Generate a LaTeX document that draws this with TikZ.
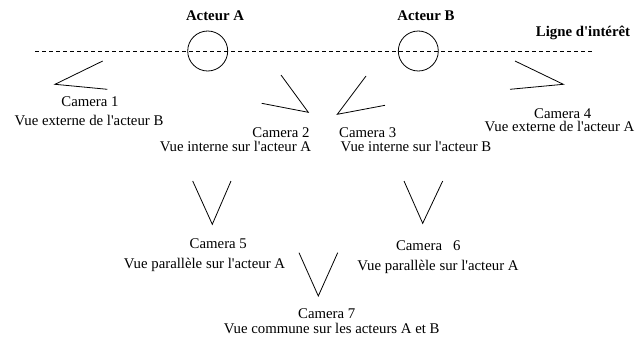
\documentclass[tikz,border=0pt]{standalone}
\usepackage{fontspec}
\setmainfont{Liberation Serif}[Ligatures=TeXOff]
\begin{document}
\begin{tikzpicture}[x=1pt,y=-1pt,
  lbl/.style={inner sep=0pt,anchor=base,font=\fontsize{14.8}{17}\selectfont},
  blbl/.style={lbl,font=\fontsize{14.8}{17}\selectfont\bfseries},
  cam/.style={line width=0.8pt,line join=miter},
  actor/.style={circle,draw,line width=0.8pt,minimum size=40pt,inner sep=0pt},
  interest/.style={dash pattern=on 4pt off 3pt,line width=0.8pt}]
\useasboundingbox (0,0) rectangle (639,338);
% line of interest
\coordinate (L0) at (35,51);
\coordinate (L1) at (592,51);
\draw[interest] (L0) -- (L1);
% actors
\node[actor] (actA) at (207.7,51) {};
\node[actor] (actB) at (418.3,51) {};
\node[blbl] (tA) at (215,20) {Acteur A};
\node[blbl] (tB) at (426,20) {Acteur B};
\node[blbl] (tL) at (583,36) {Ligne d'intérêt};
% cameras
\coordinate (c1a) at (102.7,61); \coordinate (c1o) at (55,84.3); \coordinate (c1b) at (107.3,89.3);
\draw[cam] (c1a) -- (c1o) -- (c1b);
\coordinate (c2a) at (281,75); \coordinate (c2o) at (308.3,112.3); \coordinate (c2b) at (261.7,103.3);
\draw[cam] (c2a) -- (c2o) -- (c2b);
\coordinate (c3a) at (366,76); \coordinate (c3o) at (337.3,114.3); \coordinate (c3b) at (385,105.3);
\draw[cam] (c3a) -- (c3o) -- (c3b);
\coordinate (c4a) at (515,61); \coordinate (c4o) at (563.3,84.3); \coordinate (c4b) at (510,89.3);
\draw[cam] (c4a) -- (c4o) -- (c4b);
\coordinate (c5a) at (192.7,181); \coordinate (c5o) at (212.3,224.3); \coordinate (c5b) at (231,181);
\draw[cam] (c5a) -- (c5o) -- (c5b);
\coordinate (c6a) at (404,181); \coordinate (c6o) at (422.7,223.3); \coordinate (c6b) at (442.7,181);
\draw[cam] (c6a) -- (c6o) -- (c6b);
\coordinate (c7a) at (299,252.7); \coordinate (c7o) at (318.3,296); \coordinate (c7b) at (337.7,252.7);
\draw[cam] (c7a) -- (c7o) -- (c7b);
% labels
\node[lbl] (n1) at (90,106.7) {Camera 1};
\node[lbl] (d1) at (89,125) {Vue externe de l'acteur B};
\node[lbl] (n2) at (281,137.7) {Camera 2};
\node[lbl] (d2) at (235.5,151) {Vue interne sur l'acteur A};
\node[lbl] (n3) at (367.7,137.7) {Camera 3};
\node[lbl] (d3) at (416,151) {Vue interne sur l'acteur B};
\node[lbl] (n4) at (562.7,118.3) {Camera 4};
\node[lbl] (d4) at (559.5,131.7) {Vue externe de l'acteur A};
\node[lbl] (n5) at (218.3,248) {Camera 5};
\node[lbl] (d5) at (204.5,268.5) {Vue parallèle sur l'acteur A};
\node[lbl] (n6) at (428.3,250) {Camera\ \ \ 6};
\node[lbl] (d6) at (438,270) {Vue parallèle sur l'acteur A};
\node[lbl] (n7) at (326.7,318) {Camera 7};
\node[lbl] (d7) at (331.7,333) {Vue commune sur les acteurs A et B};
\end{tikzpicture}
\end{document}
